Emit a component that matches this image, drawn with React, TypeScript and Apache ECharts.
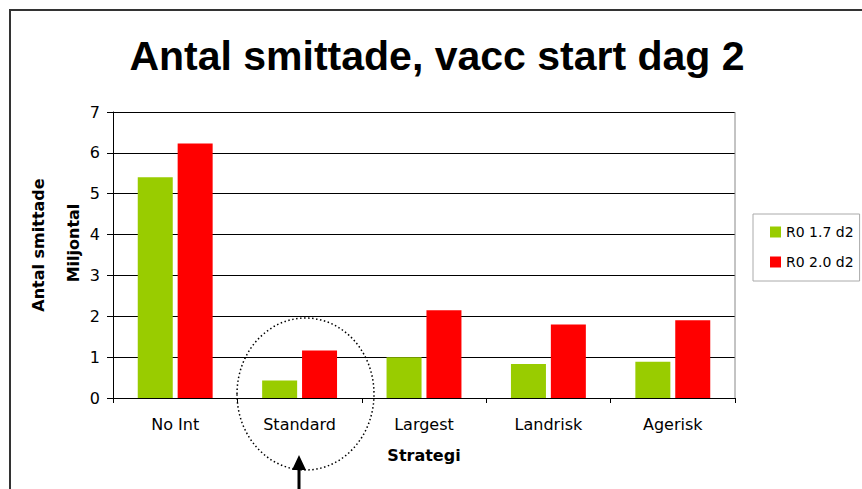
import React, { useEffect, useRef } from "react";
import * as echarts from "echarts";

const categories = ["No Int", "Standard", "Largest", "Landrisk", "Agerisk"];
const seriesNames = ["R0 1.7 d2", "R0 2.0 d2"];
const r017 = [5.4, 0.43, 1.0, 0.83, 0.89];
const r020 = [6.23, 1.16, 2.15, 1.8, 1.9];
const yTicks = { min: 0, max: 7, interval: 1 };

const SMALL_FONT = "DejaVu Sans";

export default function App() {
  const ref = useRef<HTMLDivElement>(null);
  useEffect(() => {
    document.body.style.margin = "0";
    const chart = echarts.init(ref.current!, null, { renderer: "svg" });
    chart.setOption({
      animation: false,
      backgroundColor: "#fff",
      grid: { left: 113, right: 127, top: 112, bottom: 91, containLabel: false },
      legend: {
        orient: "vertical",
        left: 753,
        top: 214,
        padding: [11, 6, 12, 17],
        itemGap: 16,
        itemWidth: 11,
        itemHeight: 11,
        borderColor: "#aaa",
        borderWidth: 1,
        icon: "rect",
        textStyle: { fontFamily: SMALL_FONT, fontSize: 14, color: "#000" },
        data: seriesNames,
      },
      xAxis: {
        type: "category",
        data: categories,
        axisLine: { show: true, lineStyle: { color: "#000", width: 1 } },
        axisTick: { show: true, length: 5, interval: 0, lineStyle: { color: "#000" } },
        axisLabel: { fontFamily: SMALL_FONT, fontSize: 16, color: "#000", margin: 18, interval: 0 },
        splitLine: { show: false },
      },
      yAxis: {
        type: "value",
        min: yTicks.min,
        max: yTicks.max,
        interval: yTicks.interval,
        axisLine: { show: true, lineStyle: { color: "#000", width: 1 } },
        axisTick: { show: true, length: 6, lineStyle: { color: "#000" } },
        axisLabel: { fontFamily: SMALL_FONT, fontSize: 16, color: "#000", margin: 13 },
        splitLine: { show: true, lineStyle: { color: "#000", width: 1 } },
      },
      series: [
        {
          name: seriesNames[0],
          type: "bar",
          data: r017,
          barWidth: 35,
          barGap: "14%",
          itemStyle: { color: "#99CC00" },
        },
        {
          name: seriesNames[1],
          type: "bar",
          data: r020,
          barWidth: 35,
          barGap: "14%",
          itemStyle: { color: "#FF0000" },
        },
      ],
      graphic: [
        {
          type: "rect",
          shape: { x: 10, y: 10, width: 900, height: 600 },
          style: { fill: "none", stroke: "#333", lineWidth: 2 },
          z: 1,
        },
        {
          type: "line",
          shape: { x1: 735, y1: 112, x2: 735, y2: 398 },
          style: { stroke: "#888", lineWidth: 1 },
          z: 1,
        },
        {
          type: "text",
          x: 437,
          y: 56,
          style: {
            text: "Antal smittade, vacc start dag 2",
            fontFamily: "Liberation Sans, Arial",
            fontWeight: "bold",
            fontSize: 41,
            fill: "#000",
            align: "center",
            verticalAlign: "middle",
          },
        },
        {
          type: "text",
          x: 38,
          y: 245,
          rotation: Math.PI / 2,
          style: {
            text: "Antal smittade",
            fontFamily: SMALL_FONT,
            fontWeight: "bold",
            fontSize: 16,
            fill: "#000",
            align: "center",
            verticalAlign: "middle",
          },
        },
        {
          type: "text",
          x: 73,
          y: 243,
          rotation: Math.PI / 2,
          style: {
            text: "Miljontal",
            fontFamily: SMALL_FONT,
            fontWeight: "bold",
            fontSize: 16,
            fill: "#000",
            align: "center",
            verticalAlign: "middle",
          },
        },
        {
          type: "text",
          x: 424,
          y: 455,
          style: {
            text: "Strategi",
            fontFamily: SMALL_FONT,
            fontWeight: "bold",
            fontSize: 16,
            fill: "#000",
            align: "center",
            verticalAlign: "middle",
          },
        },
        {
          type: "ellipse",
          shape: { cx: 305.5, cy: 394, rx: 68.5, ry: 76 },
          style: { fill: "none", stroke: "#000", lineWidth: 1.5, lineDash: [1.5, 2.5] },
          z: 100,
        },
        {
          type: "line",
          shape: { x1: 299, y1: 489, x2: 299, y2: 466 },
          style: { stroke: "#000", lineWidth: 3 },
          z: 100,
        },
        {
          type: "polygon",
          shape: { points: [[299, 455], [292, 470], [306, 470]] },
          style: { fill: "#000" },
          z: 100,
        },
      ],
    });
    return () => chart.dispose();
  }, []);
  return (
    <div
      ref={ref}
      style={{ position: "absolute", left: 0, top: 0, width: 862, height: 489 }}
    />
  );
}
